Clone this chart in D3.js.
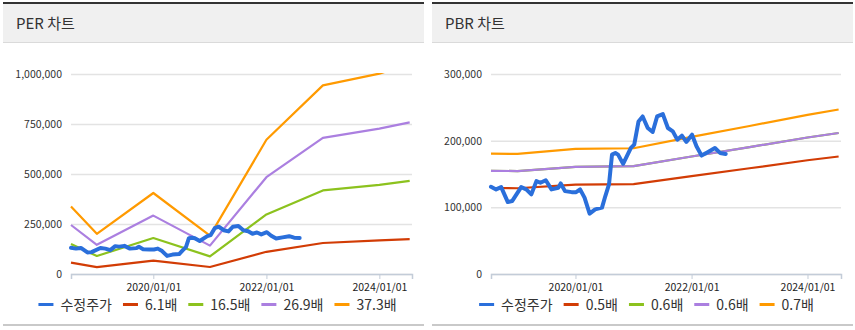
<!DOCTYPE html>
<html><head><meta charset="utf-8">
<script src="https://cdn.jsdelivr.net/npm/d3@7"></script>
<style>
body{margin:0;background:#fff;}
svg{display:block;}
</style></head><body>
<svg id="c" width="855" height="330"></svg>
<script>
// ---------- DATA ----------
const priceDates = ["2018-07-18","2018-08-19","2018-09-20","2018-11-01","2018-11-28","2019-01-24","2019-02-25","2019-03-29","2019-04-30","2019-05-25","2019-06-28","2019-08-03","2019-09-15","2019-09-30","2019-10-27","2019-12-08","2020-01-05","2020-01-30","2020-02-27","2020-03-30","2020-05-04","2020-06-16","2020-07-07","2020-07-30","2020-08-18","2020-09-08","2020-09-25","2020-10-27","2020-12-15","2021-01-05","2021-02-01","2021-02-27","2021-03-31","2021-05-01","2021-05-29","2021-07-04","2021-08-05","2021-09-05","2021-10-03","2021-11-01","2021-11-29","2022-01-04","2022-02-01","2022-03-05","2022-04-15","2022-05-28","2022-06-29","2022-08-04"];
const priceValues = [130900,126900,130300,107900,109400,130300,126900,119400,139300,136900,140700,126900,129400,135800,124300,122800,122800,126900,114500,90600,97000,99600,116900,134300,179100,181600,179100,165200,189100,194000,228800,236300,219000,213000,236300,239900,219000,213900,201500,207500,198100,209000,191500,177600,183100,189100,181600,180100];

const bandDates = ["2018-07-18","2019-01-01","2020-01-01","2021-01-01","2022-01-01","2023-01-01","2024-01-01","2024-07-15"];

const perLabels = ["6.1배","16.5배","26.9배","37.3배"];
const per61  = [57000, 34000, 67000, 35000, 111000, 155000, 168000, 174000];
const per165 = [150000, 90000, 180000, 88000, 298000, 418000, 446000, 466000];
const per269 = [245000, 146000, 292000, 142000, 484000, 681000, 727000, 758000];
const per373 = [338000, 201000, 405000, 192000, 671000, 943000, 1002000, 1050000];

const pbrLabels = ["0.5배","0.6배","0.6배","0.7배"];
const pbr05  = [129000, 128600, 134000, 134700, 146900, 158600, 170600, 176300];
const pbr06a = [154800, 154400, 160800, 161700, 176300, 190300, 204700, 211500];
const pbr06b = [154800, 154400, 160800, 161700, 176300, 190300, 204700, 211500];
const pbr07  = [180600, 180100, 187600, 188600, 205700, 222000, 238800, 246800];

const perTicks = [0, 250000, 500000, 750000, 1000000];
const pbrTicks = [0, 100000, 200000, 300000];
const xTickDates = ["2020-01-01","2022-01-01","2024-01-01"];
const xTickLabels = ["2020/01/01","2022/01/01","2024/01/01"];
const priceLabel = "수정주가";
const colors = ["#2a6fdb","#d23c05","#8cc21e","#ab7fe0","#ff9a00"];

// ---------- DRAW ----------
const parse = d3.timeParse("%Y-%m-%d");
const svg = d3.select("#c");
const FONT = "'Malgun Gothic','Noto Sans CJK KR','Noto Sans',sans-serif";

function panel(id, px, title, plotL, plotR, yMax, yTicks, bands, labels) {
  const W = 421;
  const g = svg.append("g");
  g.append("rect").attr("x", px).attr("y", 4).attr("width", W).attr("height", 38).attr("fill", "#f0f0f0");
  g.append("rect").attr("x", px).attr("y", 2).attr("width", W).attr("height", 2).attr("fill", "#333");
  g.append("rect").attr("x", px).attr("y", 42).attr("width", W).attr("height", 1).attr("fill", "#dadada");
  g.append("rect").attr("x", px).attr("y", 324).attr("width", W).attr("height", 2).attr("fill", "#c9c9c9");
  g.append("text").attr("x", px + 13).attr("y", 29).attr("font-family", FONT).attr("font-size", 15)
    .attr("fill", "#333").text(title);

  const x = d3.scaleTime().domain([parse("2018-07-18"), parse("2024-07-30")]).range([plotL, plotR]);
  const y = d3.scaleLinear().domain([0, yMax]).range([274, 74]);

  // y axis with gridlines
  const ya = g.append("g").attr("transform", `translate(${plotL},0)`)
    .call(d3.axisLeft(y).tickValues(yTicks).tickSize(-(plotR - plotL)).tickPadding(9).tickFormat(d3.format(",")));
  ya.select(".domain").remove();
  ya.selectAll(".tick line").attr("stroke", "#e3e3e3").attr("stroke-width", 1.5);
  ya.selectAll(".tick text").attr("font-family", FONT).attr("font-size", 10.5).attr("fill", "#333");

  // x axis
  const xa = g.append("g").attr("transform", "translate(0,274)")
    .call(d3.axisBottom(x).tickValues(xTickDates.map(parse)).tickSize(5).tickPadding(5)
      .tickFormat((d, i) => xTickLabels[i]));
  xa.select(".domain").attr("stroke", "#c3ccd8").attr("stroke-width", 1.5);
  xa.selectAll(".tick line").attr("stroke", "#c3ccd8");
  xa.selectAll(".tick text").attr("font-family", FONT).attr("font-size", 10.5).attr("fill", "#222");

  // clip
  g.append("clipPath").attr("id", id).append("rect")
    .attr("x", plotL - 3).attr("y", 73).attr("width", plotR - plotL + 6).attr("height", 205);
  const lines = g.append("g").attr("clip-path", `url(#${id})`);
  const bd = bandDates.map(parse);
  const line = d3.line().x(d => x(d[0])).y(d => y(d[1]));
  bands.forEach((vals, k) => {
    lines.append("path").datum(vals.map((v, i) => [bd[i], v]))
      .attr("d", line).attr("fill", "none").attr("stroke", colors[k + 1])
      .attr("stroke-width", 2.2).attr("stroke-linejoin", "round");
  });
  const pd = priceDates.map(parse);
  lines.append("path").datum(priceValues.map((v, i) => [pd[i], v]))
    .attr("d", line).attr("fill", "none").attr("stroke", colors[0])
    .attr("stroke-width", 4).attr("stroke-linejoin", "round").attr("stroke-linecap", "round");

  // legend
  const names = [priceLabel].concat(labels);
  const lg = g.append("g");
  let cx = 0;
  names.forEach((n, k) => {
    lg.append("rect").attr("x", cx).attr("y", 303).attr("width", 15).attr("height", 3).attr("fill", colors[k]);
    const t = lg.append("text").attr("x", cx + 22).attr("y", 310).attr("font-family", FONT)
      .attr("font-size", 14).attr("fill", "#333").text(n);
    cx += 22 + t.node().getComputedTextLength() + 11;
  });
  const total = cx - 11;
  lg.attr("transform", `translate(${px + W / 2 + 4 - total / 2},0)`);
}

panel("clipL", 3, "PER 차트", 71, 412, 1000000, perTicks, [per61, per165, per269, per373], perLabels);
panel("clipR", 432, "PBR 차트", 491, 841, 300000, pbrTicks, [pbr05, pbr06a, pbr06b, pbr07], pbrLabels);
</script>
</body></html>
